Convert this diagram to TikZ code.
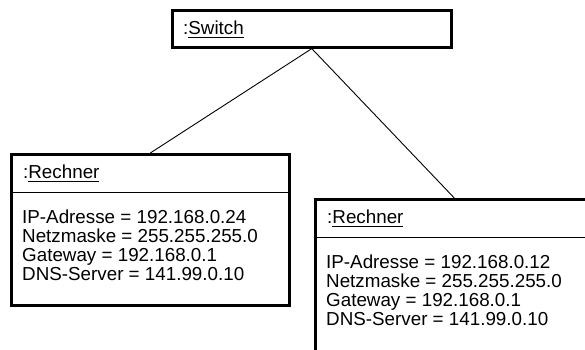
\documentclass[tikz,border=0pt]{standalone}
\usepackage{fontspec}
\setmainfont{Liberation Sans}
% underline a word with a thin rule slightly below the baseline
\newcommand\ulword[1]{\setbox0\hbox{#1}\rlap{\rule[-3.6pt]{\wd0}{0.9pt}}\box0}
\begin{document}
\begin{tikzpicture}[x=1pt,y=-1pt,
  txt/.style={font=\fontsize{18.8pt}{18.7pt}\selectfont, inner sep=0pt},
  objbox/.style={draw, line width=2.6pt, inner sep=0pt, anchor=north west,
                 minimum width=278pt, minimum height=151pt},
  switchbox/.style={draw, line width=2.6pt, inner sep=0pt, anchor=north west,
                 minimum width=279pt, minimum height=37pt},
  divider/.style={line width=0.9pt},
  conn/.style={line width=0.9pt}]
\useasboundingbox (0,0) rectangle (585,349);
\clip (0,0) rectangle (585,349);

% switch object
\node[switchbox] (sw) at (171,9) {};
\node[txt, anchor=base west] (swname) at (183,34) {:\ulword{Switch}};

% first computer (attribute block is placed by the baseline of its last line)
\node[objbox] (r1) at (10,153) {};
\draw[divider] ([yshift=-39pt]r1.north west) -- ([yshift=-39pt]r1.north east);
\node[txt, anchor=base west] (r1name) at (23,178) {:\ulword{Rechner}};
\node[txt, anchor=base west, align=left] (r1attr) at (22,280)
  {IP-Adresse = 192.168.0.24\\Netzmaske = 255.255.255.0\\Gateway = 192.168.0.1\\DNS-Server = 141.99.0.10};

% second computer, running past the right and lower edges
\node[objbox, minimum height=156pt] (r2) at (314,198) {};
\draw[divider] ([yshift=-39pt]r2.north west) -- ([yshift=-39pt]r2.north east);
\node[txt, anchor=base west] (r2name) at (327,223) {:\ulword{Rechner}};
\node[txt, anchor=base west, align=left] (r2attr) at (326,325)
  {IP-Adresse = 192.168.0.12\\Netzmaske = 255.255.255.0\\Gateway = 192.168.0.1\\DNS-Server = 141.99.0.10};

% links
\draw[conn] (sw.south) -- (r1.north);
\draw[conn] (sw.south) -- (r2.north);
\end{tikzpicture}
\end{document}
